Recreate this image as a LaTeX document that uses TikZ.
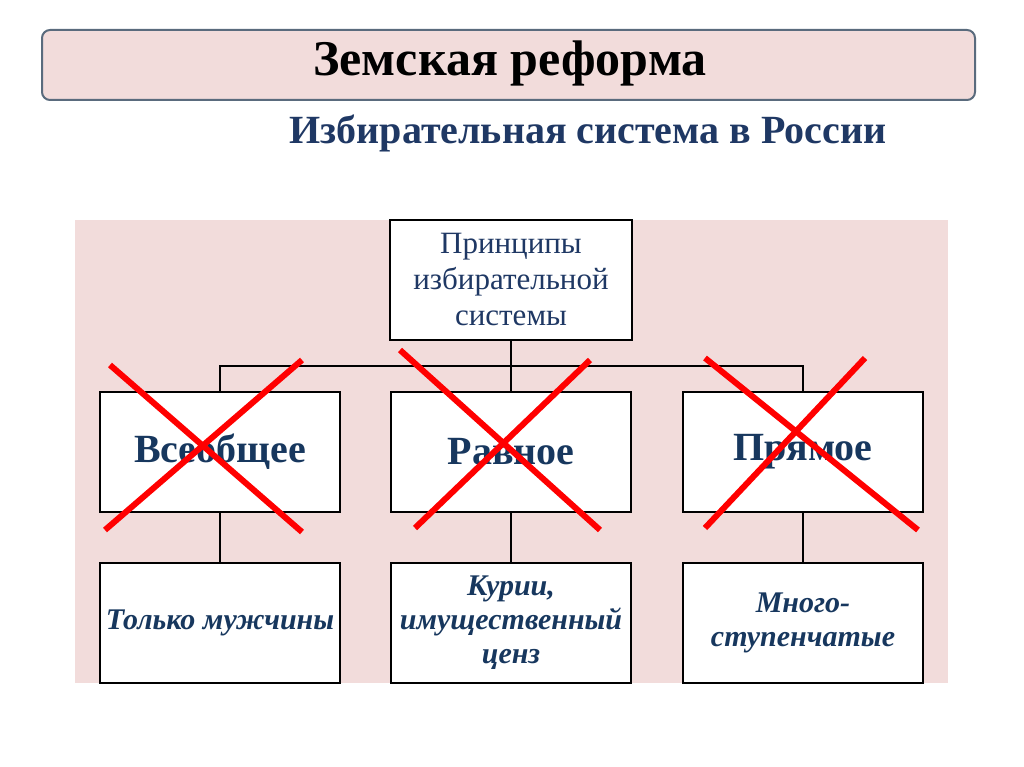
\documentclass[tikz,border=0pt]{standalone}
\usepackage{fontspec}
\setmainfont{Liberation Serif}
\definecolor{pinkbg}{HTML}{F2DCDB}
\definecolor{tblue}{HTML}{1F3864}
\definecolor{bblue}{HTML}{17375E}
\definecolor{frame}{HTML}{5A6B7D}
\begin{document}
\begin{tikzpicture}[x=1pt,y=-1pt,
  box/.style={draw=black,line width=2pt,fill=white,minimum width=240pt,minimum height=120pt,inner sep=0pt,align=center},
  conn/.style={draw=black,line width=2pt},
  xline/.style={draw=red,line width=6pt}]
\useasboundingbox (0,0) rectangle (1024,767);
\node[draw=frame,line width=2pt,fill=pinkbg,rounded corners=8pt,minimum width=933pt,minimum height=70pt] (title) at (508.5,65) {};
\node[font=\bfseries\fontsize{50}{54}\selectfont] (tt) at (510,63) {Земская реформа};
\node[font=\bfseries\fontsize{40}{44}\selectfont,text=tblue] (sub) at (588,133) {Избирательная система в России};
\fill[pinkbg] (75,220) rectangle (948,683);
\node[box,minimum width=242pt,font=\fontsize{31}{36}\selectfont,text=tblue] (top) at (511,280) {Принципы\\избирательной\\системы};
\node[box,font=\bfseries\fontsize{40}{44}\selectfont,text=bblue] (b1) at (220,452) {Всеобщее};
\node[box,font=\bfseries\fontsize{40}{44}\selectfont,text=bblue] (b2) at (511,452) {Равное};
\node[box,font=\bfseries\fontsize{40}{44}\selectfont,text=bblue] (b3) at (803,452) {Прямое};
\node[box,font=\bfseries\itshape\fontsize{30}{34}\selectfont,text=bblue] (c1) at (220,623) {Только мужчины};
\node[box,font=\bfseries\itshape\fontsize{30}{34}\selectfont,text=bblue] (c2) at (511,623) {Курии,\\имущественный\\ценз};
\node[box,font=\bfseries\itshape\fontsize{30}{34}\selectfont,text=bblue] (c3) at (803,623) {Много-\\ступенчатые};
\coordinate (j) at (511,366);
\draw[conn] (top.south) -- (j);
\draw[conn] (b1.north) |- (j) -| (b3.north);
\draw[conn] (j) -- (b2.north);
\draw[conn] (b1.south) -- (c1.north);
\draw[conn] (b2.south) -- (c2.north);
\draw[conn] (b3.south) -- (c3.north);
\draw[xline] (110,365) -- (302,532);
\draw[xline] (302,360) -- (105,530);
\draw[xline] (400,350) -- (600,530);
\draw[xline] (590,360) -- (415,528);
\draw[xline] (705,358) -- (918,530);
\draw[xline] (865,358) -- (705,528);
\end{tikzpicture}
\end{document}
